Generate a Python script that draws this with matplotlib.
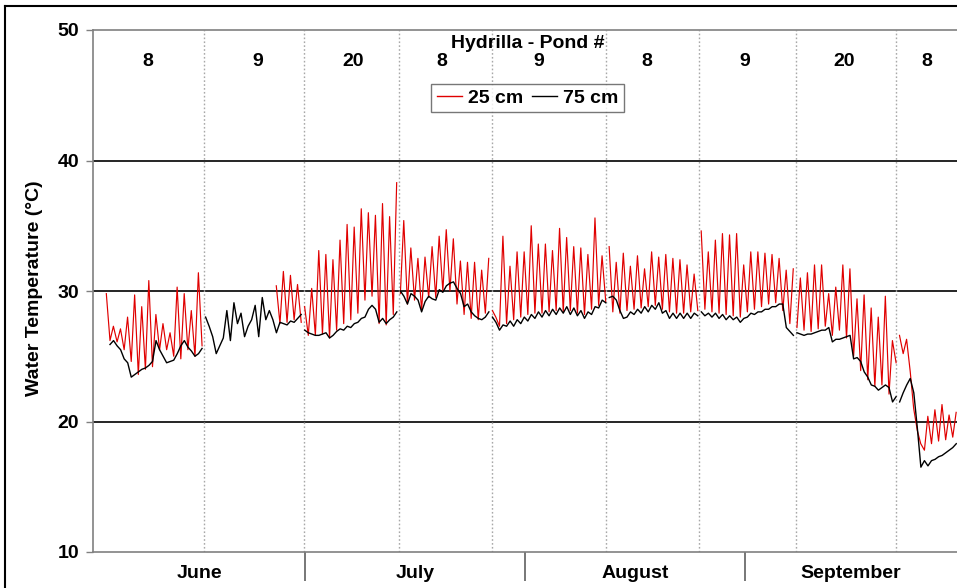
import numpy as np
import matplotlib
matplotlib.use("Agg")
import matplotlib.pyplot as plt
from matplotlib.lines import Line2D

plt.rcParams['font.family'] = ['Liberation Sans', 'DejaVu Sans']
plt.rcParams['font.weight'] = 'bold'

nan = np.nan

# ---- data (day index 0 = June 1) ----
# 25 cm: daily minimum (early morning) and maximum (afternoon)
red_min = [
    nan, nan, 26.2, 26.1, 25.5, 24.6, 23.6, 24.0, 24.2, 25.5,
    25.5, 25.0, 24.8, 25.5, 25.0, 25.8, nan, nan, nan, nan,
    nan, nan, nan, nan, nan, nan, 27.5, 27.6, 27.8, 27.6,
    26.6, 26.6, 26.7, 26.4, 27.0, 27.5, 27.8, 28.3, 29.3, 29.6,
    27.5, 27.4, 28.2, 29.8, 29.0, 29.3, 28.5, 29.5, 29.5, 30.0,
    30.0, 29.0, 28.2, 27.9, 27.8, 28.3, 28.5, 27.3, 27.5, 27.8,
    28.0, 28.2, 28.3, 28.3, 28.4, 28.5, 28.4, 28.5, 28.3, 28.2,
    28.6, 28.9, 29.2, 28.4, 28.3, 28.5, 28.6, 28.7, 28.8, 28.9,
    28.6, 28.4, 28.3, 28.3, 28.4, 28.5, 28.6, 28.4, 28.3, 28.2,
    28.1, 28.0, 28.4, 28.6, 28.8, 29.0, 29.1, 28.5, 27.5, 27.2,
    27.0, 26.9, 27.1, 27.3, 26.6, 27.0, 26.4, 25.0, 23.9, 23.2,
    22.7, 22.8, 22.1, 24.5, 25.2, 23.8, 19.3, 17.8, 18.3, 18.5,
    18.6, 18.8,
]
red_max = [
    nan, 29.8, 27.3, 27.1, 28.0, 29.7, 28.8, 30.8, 28.2, 27.5,
    26.8, 30.3, 29.8, 28.5, 31.4, nan, nan, nan, nan, nan,
    nan, nan, nan, nan, nan, 30.4, 31.5, 31.2, 30.5, 28.8,
    30.2, 33.1, 32.8, 32.4, 33.9, 35.1, 34.9, 36.3, 36.0, 35.8,
    36.7, 35.7, 38.3, 35.4, 33.3, 32.5, 32.6, 33.4, 34.2, 34.7,
    34.0, 32.3, 32.2, 32.2, 31.6, 32.5, 28.0, 34.2, 31.9, 33.0,
    33.0, 35.0, 33.6, 33.6, 33.1, 34.8, 34.1, 33.4, 33.3, 32.8,
    35.6, 32.7, 33.4, 32.2, 32.9, 31.9, 32.7, 31.7, 33.0, 32.6,
    32.8, 32.5, 32.4, 32.0, 31.3, 34.6, 33.0, 33.9, 34.4, 34.3,
    34.4, 32.0, 33.0, 33.0, 32.9, 32.8, 32.5, 31.6, 31.7, 31.0,
    31.4, 32.0, 32.0, 29.8, 30.3, 32.0, 31.7, 29.4, 29.7, 28.7,
    28.0, 29.6, 26.2, 26.6, 26.3, 21.0, 18.3, 20.4, 20.9, 21.3,
    20.5, 20.7,
]
# 75 cm: morning and evening readings
blk_am = [
    nan, nan, 25.9, 25.8, 24.8, 23.4, 23.8, 24.1, 24.6, 25.5,
    24.5, 24.7, 25.8, 25.7, 25.0, 25.6, 27.3, 25.2, 26.4, 26.2,
    27.5, 26.5, 27.8, 26.5, 27.8, 27.8, 27.6, 27.4, 27.6, 28.2,
    26.8, 26.6, 26.7, 26.4, 26.9, 27.0, 27.2, 27.6, 28.0, 28.9,
    27.6, 27.5, 28.0, 30.0, 29.0, 29.6, 28.4, 29.6, 29.3, 29.9,
    30.6, 30.2, 28.8, 28.4, 27.9, 28.0, 28.0, 27.0, 27.3, 27.3,
    27.5, 27.7, 27.9, 28.0, 28.1, 28.2, 28.3, 28.2, 28.1, 27.9,
    28.2, 28.7, 29.1, 29.6, 28.5, 28.0, 28.2, 28.3, 28.4, 28.6,
    28.3, 27.9, 27.9, 27.9, 27.9, 28.1, 28.1, 28.0, 27.9, 27.8,
    27.8, 27.6, 28.0, 28.2, 28.4, 28.6, 28.8, 29.0, 26.9, 26.8,
    26.6, 26.7, 26.9, 27.0, 26.1, 26.3, 26.5, 24.8, 24.6, 23.4,
    22.7, 22.6, 22.6, 21.9, 22.2, 23.3, 19.5, 17.0, 17.0, 17.3,
    17.6, 18.0,
]
blk_pm = [
    nan, nan, 26.2, 25.5, 24.5, 23.6, 24.0, 24.3, 26.2, 25.0,
    24.6, 25.2, 26.2, 25.4, 25.2, 28.0, 26.5, 25.8, 28.5, 29.1,
    28.3, 27.3, 28.9, 29.5, 28.5, 26.8, 27.5, 27.7, 27.9, 27.0,
    26.7, 26.6, 26.8, 26.6, 27.1, 27.3, 27.5, 27.9, 28.6, 28.6,
    27.9, 27.8, 28.4, 29.6, 29.8, 29.3, 29.2, 29.4, 30.1, 30.4,
    30.7, 29.8, 29.0, 28.1, 27.8, 28.4, 27.6, 27.4, 27.7, 27.8,
    28.0, 28.2, 28.4, 28.5, 28.6, 28.7, 28.8, 28.7, 28.5, 28.4,
    28.8, 29.3, 29.5, 29.3, 27.9, 28.4, 28.6, 28.8, 28.9, 29.1,
    28.5, 28.3, 28.3, 28.3, 28.3, 28.4, 28.3, 28.3, 28.2, 28.1,
    28.0, 27.9, 28.3, 28.4, 28.6, 28.8, 29.0, 27.2, 26.6, 26.7,
    26.7, 26.8, 27.0, 27.2, 26.3, 26.4, 26.6, 24.9, 23.8, 22.8,
    22.4, 22.8, 21.5, 21.5, 22.8, 22.2, 16.5, 16.6, 17.1, 17.4,
    17.8, 18.3,
]

pond_breaks = [15.68, 29.80, 43.22, 56.36, 72.46, 85.59, 99.29, 113.42]
pond_ids = ['8', '9', '20', '8', '9', '8', '9', '20', '8']
pond_label_days = [7.8, 23.3, 36.7, 49.3, 62.9, 78.2, 92.1, 106.1, 117.8]
month_names = ['June', 'July', 'August', 'September']
month_edges = [0, 30, 61, 92, 122]

T_MORNING, T_AFTERNOON, T_EVENING = 0.40, 0.88, 0.90


def build(lo, hi, t_lo, t_hi):
    t, v = [], []
    for d in range(len(lo)):
        t += [d + t_lo, d + t_hi]
        v += [lo[d], hi[d]]
    seg = np.searchsorted(pond_breaks, t)
    ot, ov = [], []
    for i in range(len(t)):
        if i > 0 and seg[i] != seg[i - 1]:
            ot.append(nan)
            ov.append(nan)
        ot.append(t[i])
        ov.append(v[i])
    return np.array(ot), np.array(ov, dtype=float)


W, H = 957, 588
fig = plt.figure(figsize=(W / 100, H / 100), dpi=100)
ax = fig.add_axes([93 / W, 1 - 552 / H, (957 - 93) / W, (552 - 30) / H])

x_r, y_r = build(red_min, red_max, T_MORNING, T_AFTERNOON)
x_b, y_b = build(blk_am, blk_pm, T_MORNING, T_EVENING)

ax.set_xlim(month_edges[0], month_edges[-1])
ax.set_ylim(10, 50)

for yv in (20, 30, 40):
    ax.axhline(yv, color='black', lw=1.2, zorder=1)
for b in pond_breaks:
    ax.axvline(b, color='#a8a8a8', lw=1.0, ls=(0, (1.2, 1.6)), zorder=1)

ax.plot(x_r, y_r, color='#e00000', lw=0.85, zorder=3)
ax.plot(x_b, y_b, color='black', lw=1.0, zorder=4)

# pond labels and title
for d, lab in zip(pond_label_days, pond_ids):
    ax.text(d, 0.9387, lab, transform=ax.get_xaxis_transform(), ha='center', va='center',
            fontsize=14, fontweight='bold')
ax.text(0.503, 0.975, 'Hydrilla - Pond #', transform=ax.transAxes, ha='center', va='center',
        fontsize=14, fontweight='bold')

handles = [Line2D([], [], color='#e00000', lw=1.0), Line2D([], [], color='black', lw=1.0)]
leg = ax.legend(handles, ['25 cm', '75 cm'], ncol=2, loc='center', bbox_to_anchor=(0.503, 0.8697),
                prop={'size': 14, 'weight': 'bold'}, frameon=True, fancybox=False,
                handlelength=1.3, handletextpad=0.3, columnspacing=0.45, borderpad=0.28,
                borderaxespad=0)
leg.get_frame().set_edgecolor('#555555')
leg.get_frame().set_linewidth(1.0)
leg.set_zorder(6)

# axes styling
for s in ('left', 'top', 'bottom'):
    ax.spines[s].set_color('#808080')
    ax.spines[s].set_linewidth(1.2)
ax.spines['right'].set_visible(False)

ax.set_yticks([10, 20, 30, 40, 50])
ax.set_yticklabels(['10', '20', '30', '40', '50'], fontsize=14, fontweight='bold')
ax.tick_params(axis='y', direction='out', length=5, width=1, color='#808080', pad=5)

inner_edges = month_edges[1:-1]
ax.set_xticks(inner_edges)
ax.set_xticklabels([''] * len(inner_edges))
ax.tick_params(axis='x', which='major', direction='out', length=21, width=1.2, color='#606060')
mids = [(month_edges[i] + month_edges[i + 1]) / 2 for i in range(len(month_names))]
ax.set_xticks(mids, minor=True)
ax.set_xticklabels(month_names, minor=True, fontsize=14, fontweight='bold')
ax.tick_params(axis='x', which='minor', length=0, pad=9)

fig.text(35 / W, 1 - 288 / H, 'Water Temperature (\u00b0C)', rotation=90, ha='center', va='center',
         fontsize=14, fontweight='bold')

# chart-area border (left and top)
fig.add_artist(Line2D([5 / W, 5 / W], [0, 1 - 6 / H], transform=fig.transFigure, color='black', lw=1.5))
fig.add_artist(Line2D([5 / W, 1], [1 - 6 / H, 1 - 6 / H], transform=fig.transFigure, color='black', lw=1.5))

fig.savefig('out.png', dpi=100)
